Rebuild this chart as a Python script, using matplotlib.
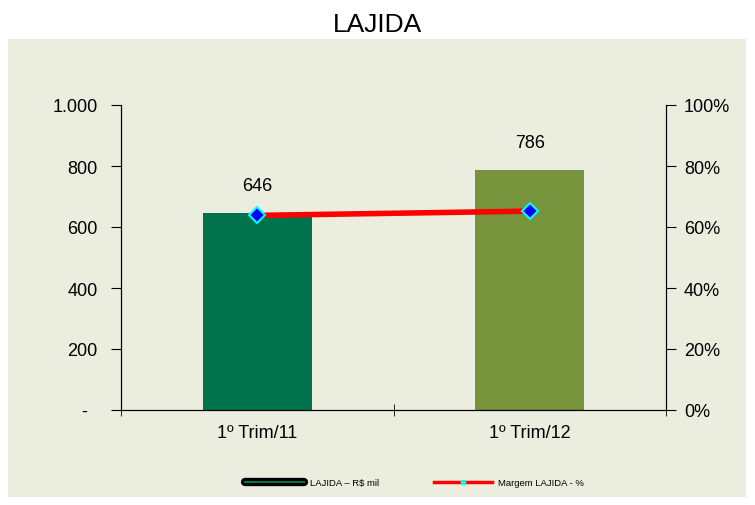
import matplotlib.pyplot as plt
import matplotlib.patches as mpatches
from matplotlib.lines import Line2D
from matplotlib.legend_handler import HandlerTuple
from matplotlib.ticker import FixedLocator

plt.rcParams['font.family'] = ['Liberation Sans', 'DejaVu Sans']

# Dados
periodos = ['1º Trim/11', '1º Trim/12']
lajida = [646, 786]
margem = [0.638, 0.652]
cores_barras = ['#00734C', '#77933C']

fundo = '#EBEEDE'

fig = plt.figure(figsize=(7.55, 5.06), dpi=100)
fig.patch.set_facecolor('white')
fig.patches.append(mpatches.Rectangle((8 / 755, 8 / 506), 738 / 755, 458 / 506,
                                      transform=fig.transFigure, facecolor=fundo,
                                      edgecolor='none', zorder=-10))
fig.text(0.5, 0.951, 'LAJIDA', ha='center', va='center', fontsize=19)

ax = fig.add_axes([121 / 755, 95 / 506, 545 / 755, 305 / 506])
ax.set_facecolor(fundo)
x = [0, 1]
ax.bar(x, lajida, width=0.4, color=cores_barras, zorder=2)
for xi, v in zip(x, lajida):
    ax.text(xi, v + 90, str(v), ha='center', va='center', fontsize=13)

ax.set_xlim(-0.5, 1.5)
ax.set_ylim(0, 1000)
ax.set_yticks([0, 200, 400, 600, 800, 1000])
ax.set_yticklabels(['-  ', '200', '400', '600', '800', '1.000'])
ax.set_xticks(x)
ax.set_xticklabels(periodos)
ax.tick_params(axis='x', length=0, pad=10, labelsize=13)
ax.xaxis.set_minor_locator(FixedLocator([-0.5, 0.5, 1.5]))
ax.tick_params(axis='x', which='minor', length=8, direction='inout')
ax.tick_params(axis='y', length=7, direction='out', pad=10, labelsize=13)
ax.spines['top'].set_visible(False)
for s in ['left', 'right', 'bottom']:
    ax.spines[s].set_linewidth(0.8)

ax2 = ax.twinx()
ax2.plot(x, margem, color='#FF0000', linewidth=4, zorder=3)
ax2.plot(x, margem, linestyle='none', marker='D', markersize=8,
         markerfacecolor='#0000FF', markeredgecolor='#00FFFF', markeredgewidth=1.5, zorder=4)
ax2.set_ylim(0, 1)
ax2.set_yticks([0, 0.2, 0.4, 0.6, 0.8, 1.0])
ax2.set_yticklabels(['0%', '20%', '40%', '60%', '80%', '100%'])
ax2.tick_params(axis='y', length=7, direction='out', pad=6, labelsize=13)
ax2.spines['top'].set_visible(False)

h_barra = (Line2D([0], [0], color='black', linewidth=6, solid_capstyle='round'),
           Line2D([0], [0], color='#00734C', linewidth=1.5))
h_linha = Line2D([0], [0], color='#FF0000', linewidth=2.5, marker='s', markersize=3,
                 markerfacecolor='#00FFFF', markeredgecolor='#00FFFF')
fig.legend([h_barra, h_linha], ['LAJIDA – R$ mil', 'Margem LAJIDA - %'], loc='center',
           bbox_to_anchor=(0.549, 0.044), ncol=2, frameon=False, fontsize=6.8,
           handlelength=6.2, columnspacing=5.8, handletextpad=0.6,
           handler_map={tuple: HandlerTuple(ndivide=1)})

fig.savefig('out.png', dpi=100)
